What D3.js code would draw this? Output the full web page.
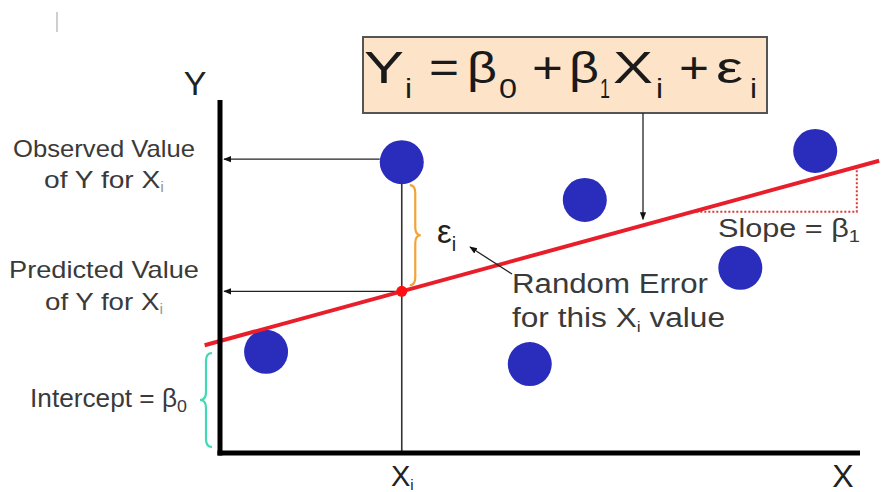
<!DOCTYPE html>
<html>
<head>
<meta charset="utf-8">
<script src="https://cdn.jsdelivr.net/npm/d3@7"></script>
<style>
  body { margin: 0; background: #fff; }
  svg { display: block; font-family: "Liberation Sans", Arial, sans-serif; }
  .lbl { fill: #3a3a3a; }
</style>
</head>
<body>
<div id="chart"></div>
<script>
// observed points (x, y) in data units
const pointX = [7.2, 28.4, 57.0, 81.3, 93.0, 48.4]
const pointY = [28.9, 83.1, 72.3, 52.9, 86.3, 25.4]
// fitted line  y = b0 + b1 * x
const b0 = 32
const b1 = 0.5
const lineExtent = [-2.4, 103]
const xiIndex = 1             // the point used for the annotation
const slopeRun = [73.8, 99.5] // dotted slope triangle

const leftLabels = [
  { text: "Observed Value", sub: null, len: 182 },
  { text: "of Y for X", sub: "i", len: 120 },
  { text: "Predicted Value", sub: null, len: 190 },
  { text: "of Y for X", sub: "i", len: 118 }
]
// formula pieces: [text, is subscript]
const formula = [["Y", 0], ["i", 1], ["=", 0], ["β", 0], ["0", 1], ["+", 0], ["β", 0], ["1", 1], ["X", 0], ["i", 1], ["+", 0], ["ε", 0], ["i", 1]]

const W = 885, H = 492

const svg = d3.select("#chart").append("svg")
  .attr("width", W).attr("height", H)

const x = d3.scaleLinear().domain([0, 100]).range([220, 860])
const y = d3.scaleLinear().domain([0, 100]).range([453, 103])
const fit = (v) => b0 + b1 * v

const defs = svg.append("defs")
defs.append("marker")
  .attr("id", "arr")
  .attr("viewBox", "0 0 10 10")
  .attr("refX", 9).attr("refY", 5)
  .attr("markerWidth", 6).attr("markerHeight", 6)
  .attr("orient", "auto")
  .append("path").attr("d", "M0,1 L10,5 L0,9 z").attr("fill", "#111")

// small scan artefact
svg.append("line").attr("x1", 57).attr("x2", 57).attr("y1", 12).attr("y2", 32)
  .attr("stroke", "#cfcfcf").attr("stroke-width", 2)

const xi = pointX[xiIndex], yi = pointY[xiIndex]
const R = 22

// vertical guide at Xi
svg.append("line")
  .attr("x1", x(xi)).attr("x2", x(xi))
  .attr("y1", y(yi)).attr("y2", y(0))
  .attr("stroke", "#333").attr("stroke-width", 1.6)

// horizontal arrows to the Y axis
svg.append("line")
  .attr("x1", x(xi) - R).attr("x2", x(0) + 4)
  .attr("y1", y(yi) - 3).attr("y2", y(yi) - 3)
  .attr("stroke", "#222").attr("stroke-width", 1.3)
  .attr("marker-end", "url(#arr)")
svg.append("line")
  .attr("x1", x(xi)).attr("x2", x(0) + 4)
  .attr("y1", y(fit(xi))).attr("y2", y(fit(xi)))
  .attr("stroke", "#222").attr("stroke-width", 1.3)
  .attr("marker-end", "url(#arr)")

// points
svg.append("g").selectAll("circle")
  .data(pointX.map((v, i) => [v, pointY[i]]))
  .join("circle")
  .attr("cx", (d) => x(d[0]))
  .attr("cy", (d) => y(d[1]))
  .attr("r", R)
  .attr("fill", "#2a2cbc")

// slope triangle (dotted)
svg.append("path")
  .attr("d", `M${x(slopeRun[0])},${y(fit(slopeRun[0]))} L${x(slopeRun[1])},${y(fit(slopeRun[0]))} L${x(slopeRun[1])},${y(fit(slopeRun[1]))}`)
  .attr("fill", "none").attr("stroke", "#d83a3a")
  .attr("stroke-width", 2).attr("stroke-dasharray", "2,2")

// regression line
svg.append("line")
  .attr("x1", x(lineExtent[0])).attr("y1", y(fit(lineExtent[0])))
  .attr("x2", x(lineExtent[1])).attr("y2", y(fit(lineExtent[1])))
  .attr("stroke", "#e81f2a").attr("stroke-width", 4)

svg.append("circle")
  .attr("cx", x(xi)).attr("cy", y(fit(xi))).attr("r", 5.5)
  .attr("fill", "#ff1010")

// axes
svg.append("line").attr("x1", x(0)).attr("x2", x(0)).attr("y1", 100).attr("y2", y(0) + 2.5)
  .attr("stroke", "#000").attr("stroke-width", 5)
svg.append("line").attr("x1", x(0) - 2.5).attr("x2", x(100)).attr("y1", y(0)).attr("y2", y(0))
  .attr("stroke", "#000").attr("stroke-width", 5)

// curly brace helper, w > 0 points right
const brace = (bx, y1, y2, w) => {
  const m = (y1 + y2) / 2, h = w / 2, r = 8
  return `M${bx},${y1} Q${bx + h},${y1} ${bx + h},${y1 + r} L${bx + h},${m - r} Q${bx + h},${m} ${bx + w},${m}` +
    ` Q${bx + h},${m} ${bx + h},${m + r} L${bx + h},${y2 - r} Q${bx + h},${y2} ${bx},${y2}`
}
svg.append("path")
  .attr("d", brace(x(xi) + 8, y(yi) + R + 1, y(fit(xi)) - 6, 11))
  .attr("fill", "none").attr("stroke", "#f2a33a").attr("stroke-width", 2.2)
svg.append("path")
  .attr("d", brace(x(0) - 8, y(b0) + 12, y(0) - 6, -12))
  .attr("fill", "none").attr("stroke", "#3fd9b4").attr("stroke-width", 2.2)

// formula box
const box = svg.append("g")
box.append("rect").attr("x", 363).attr("y", 37).attr("width", 404).attr("height", 76)
  .attr("fill", "#fde3c8").attr("stroke", "#555").attr("stroke-width", 2)
// start and width of each glyph in the formula
const fX = [364, 405, 429, 467, 499, 532, 569, 600, 613, 656, 679, 716, 750]
const fW = [40, 7, 30, 30, 18, 31, 30, 10, 40, 7, 30, 27, 7]
box.selectAll("text.f")
  .data(formula)
  .join("text")
  .attr("class", "f")
  .attr("x", (d, i) => fX[i])
  .attr("y", (d) => d[1] ? 98 : 83)
  .attr("font-size", (d) => d[1] ? 27 : 44)
  .attr("fill", "#1a1a1a")
  .attr("textLength", (d, i) => fW[i])
  .attr("lengthAdjust", "spacingAndGlyphs")
  .text((d) => d[0])

// arrow from formula to the line
svg.append("line")
  .attr("x1", 643).attr("x2", 643).attr("y1", 113).attr("y2", y(fit(x.invert(643))) - 6)
  .attr("stroke", "#222").attr("stroke-width", 1.3)
  .attr("marker-end", "url(#arr)")

// axis titles
svg.append("text").attr("x", 195).attr("y", 95).attr("text-anchor", "middle")
  .attr("font-size", 34).attr("fill", "#222").text("Y")
svg.append("text").attr("x", 843).attr("y", 487).attr("text-anchor", "middle")
  .attr("font-size", 32).attr("fill", "#222").text("X")
const xil = svg.append("text").attr("x", 391).attr("y", 486)
  .attr("font-size", 29).attr("fill", "#222")
xil.append("tspan").text("X")
xil.append("tspan").text("i").attr("font-size", 15).attr("dy", 4)

// left labels
const leftY = [157, 188, 278, 310]
leftLabels.forEach((d, i) => {
  const t = svg.append("text").attr("class", "lbl")
    .attr("x", 104 - d.len / 2).attr("y", leftY[i])
    .attr("font-size", 24)
    .attr("textLength", d.len).attr("lengthAdjust", "spacingAndGlyphs")
  t.append("tspan").text(d.text)
  if (d.sub) t.append("tspan").text(d.sub).attr("font-size", 14).attr("dy", 4).attr("fill", "#999")
})

const ic = svg.append("text").attr("class", "lbl").attr("x", 30).attr("y", 407).attr("font-size", 25)
  .attr("textLength", 157).attr("lengthAdjust", "spacingAndGlyphs")
ic.append("tspan").text("Intercept = β")
ic.append("tspan").text("0").attr("font-size", 17).attr("dy", 5)

// epsilon label and random error
const ep = svg.append("text").attr("x", 437).attr("y", 243).attr("font-size", 33).attr("fill", "#222")
ep.append("tspan").text("ε")
ep.append("tspan").text("i").attr("font-size", 20).attr("dy", 8)

svg.append("line").attr("x1", 512).attr("y1", 274).attr("x2", 470).attr("y2", 247)
  .attr("stroke", "#222").attr("stroke-width", 1.3).attr("marker-end", "url(#arr)")

svg.append("text").attr("class", "lbl").attr("x", 512).attr("y", 293)
  .attr("font-size", 27).attr("textLength", 196).attr("lengthAdjust", "spacingAndGlyphs")
  .text("Random Error")
const fe = svg.append("text").attr("class", "lbl").attr("x", 512).attr("y", 327).attr("font-size", 27)
  .attr("textLength", 213).attr("lengthAdjust", "spacingAndGlyphs")
fe.append("tspan").text("for this X")
fe.append("tspan").text("i").attr("font-size", 15).attr("dy", 5)
fe.append("tspan").text(" value").attr("dy", -5)

const sl = svg.append("text").attr("class", "lbl").attr("x", 718).attr("y", 237).attr("font-size", 26)
  .attr("textLength", 142).attr("lengthAdjust", "spacingAndGlyphs")
sl.append("tspan").text("Slope = β")
sl.append("tspan").text("1").attr("font-size", 17).attr("dy", 5)
</script>
</body>
</html>
